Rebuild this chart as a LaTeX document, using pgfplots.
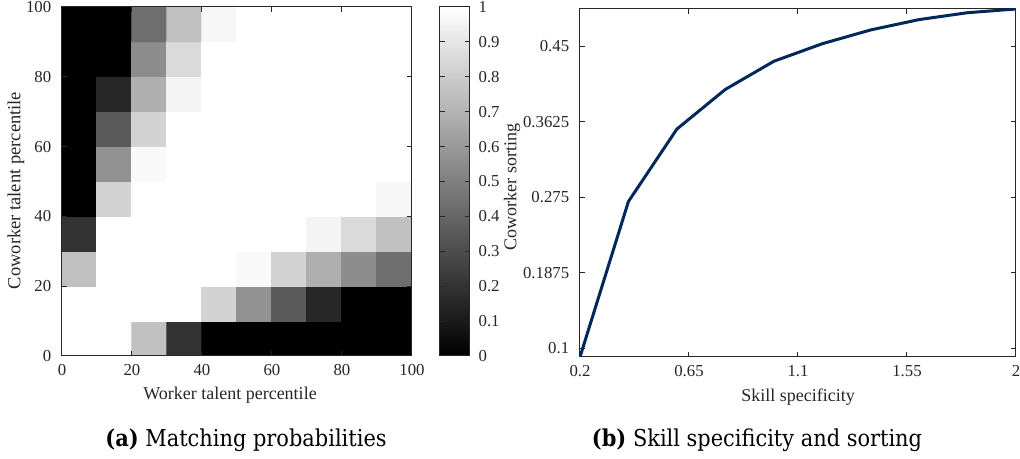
\documentclass[border=0pt]{standalone}
\usepackage{pgfplots}
\pgfplotsset{compat=1.18}
\usepackage{pgfplotstable}
\usepackage{fontspec}
\setmainfont{Liberation Serif}
\newfontfamily\capfont{DejaVu Serif Condensed}
\definecolor{navy}{RGB}{0,40,90}
\definecolor{axgray}{RGB}{38,38,38}

\pgfplotstableread{
x y c
5 5 1
15 5 1
25 5 0.75
35 5 0.2
45 5 0
55 5 0
65 5 0
75 5 0
85 5 0
95 5 0
5 15 1
15 15 1
25 15 1
35 15 1
45 15 0.82
55 15 0.57
65 15 0.35
75 15 0.15
85 15 0
95 15 0
5 25 0.75
15 25 1
25 25 1
35 25 1
45 25 1
55 25 0.97
65 25 0.82
75 25 0.68
85 25 0.55
95 25 0.43
5 35 0.2
15 35 1
25 35 1
35 35 1
45 35 1
55 35 1
65 35 1
75 35 0.95
85 35 0.85
95 35 0.75
5 45 0
15 45 0.82
25 45 1
35 45 1
45 45 1
55 45 1
65 45 1
75 45 1
85 45 1
95 45 0.96
5 55 0
15 55 0.57
25 55 0.97
35 55 1
45 55 1
55 55 1
65 55 1
75 55 1
85 55 1
95 55 1
5 65 0
15 65 0.35
25 65 0.82
35 65 1
45 65 1
55 65 1
65 65 1
75 65 1
85 65 1
95 65 1
5 75 0
15 75 0.15
25 75 0.68
35 75 0.95
45 75 1
55 75 1
65 75 1
75 75 1
85 75 1
95 75 1
5 85 0
15 85 0
25 85 0.55
35 85 0.85
45 85 1
55 85 1
65 85 1
75 85 1
85 85 1
95 85 1
5 95 0
15 95 0
25 95 0.43
35 95 0.75
45 95 0.96
55 95 1
65 95 1
75 95 1
85 95 1
95 95 1
}\matchtab

\pgfplotstableread{
x y
0.2 0.0896
0.4 0.270
0.6 0.354
0.8 0.400
1.0 0.4326
1.2 0.453
1.4 0.469
1.6 0.481
1.8 0.489
2.0 0.4933
}\sorttab

\pgfplotsset{
  mystyle/.style={
    scale only axis,
    axis line style={axgray, line width=0.4pt},
    tick style={axgray, line width=0.4pt},
    major tick length=2pt,
    tick align=inside,
    tick pos=both,
    ticklabel style={font=\fontsize{6.7}{8}\selectfont, text=axgray},
    yticklabel style={xshift=-0.8pt},
    label style={font=\fontsize{7.2}{8.5}\selectfont, text=axgray},
    /pgf/number format/assume math mode=true,
  }
}

\begin{document}
\begin{tikzpicture}
\useasboundingbox (0,0) rectangle (408pt,183.6pt);
\begin{axis}[mystyle,
  axis on top,
  at={(24.8pt,41.2pt)}, anchor=south west,
  width=140pt, height=139.6pt,
  xmin=0, xmax=100, ymin=0, ymax=100,
  xtick={0,20,...,100}, ytick={0,20,...,100},
  xlabel={Worker talent percentile},
  ylabel={Coworker talent percentile},
  xlabel style={at={(axis description cs:0.5,0)}, anchor=center, yshift=-15.6pt, xshift=-2.8pt},
  ylabel style={at={(axis description cs:0,0.5)}, anchor=center, yshift=18.4pt, xshift=-3.6pt, font=\fontsize{7.4}{8.5}\selectfont},
  colormap={bw}{gray(0cm)=(0); gray(1cm)=(1)},
  point meta min=0, point meta max=1,
  colorbar,
  colorbar style={
    at={(parent axis.north east)}, anchor=north west, xshift=2.6pt,
    width=12pt,
    ytick={0,0.1,...,1},
    yticklabels={0,0.1,0.2,0.3,0.4,0.5,0.6,0.7,0.8,0.9,1},
    axis line style={axgray, line width=0.4pt},
    tick style={axgray, line width=0.4pt},
    major tick length=2pt,
    tick align=inside,
    ticklabel style={font=\fontsize{6.7}{8}\selectfont, text=axgray},
    /pgf/number format/assume math mode=true,
  },
]
\addplot[matrix plot*, mesh/cols=10, point meta=explicit] table[x=x, y=y, meta=c] {\matchtab};
\end{axis}

\begin{axis}[mystyle,
  at={(232pt,40.8pt)}, anchor=south west,
  width=174.4pt, height=139.2pt,
  xmin=0.2, xmax=2, ymin=0.0896, ymax=0.4933,
  xtick={0.2,0.65,1.1,1.55,2},
  xticklabels={0.2,0.65,1.1,1.55,2},
  ytick={0.1,0.1875,0.275,0.3625,0.45},
  yticklabels={0.1,0.1875,0.275,0.3625,0.45},
  xlabel={Skill specificity},
  ylabel={Coworker sorting},
  xlabel style={at={(axis description cs:0.5,0)}, anchor=center, yshift=-16pt},
  ylabel style={at={(axis description cs:0,0.5)}, anchor=center, yshift=27.2pt, xshift=-1.6pt},
]
\addplot[navy, line width=1.2pt] table[x=x, y=y] {\sorttab};
\end{axis}

\node[anchor=base, font=\capfont\fontsize{9.3}{11}\selectfont] at (98.4pt,4.8pt) {\textbf{(a)} Matching probabilities};
\node[anchor=base, font=\capfont\fontsize{9.3}{11}\selectfont] at (302.8pt,4.8pt) {\textbf{(b)} Skill specificity and sorting};
\end{tikzpicture}
\end{document}
